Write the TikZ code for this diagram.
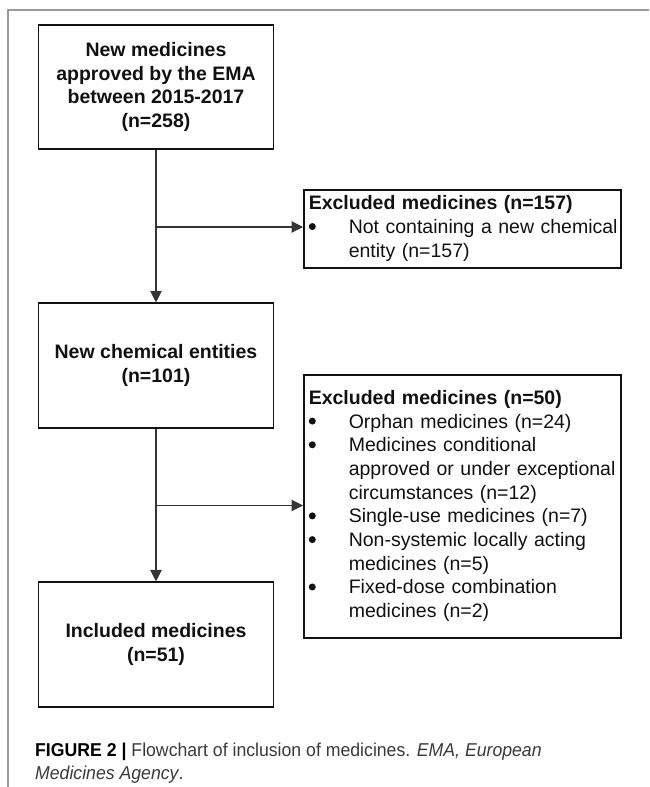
\documentclass[tikz,border=0pt]{standalone}
\usepackage{fontspec}
\setmainfont{Liberation Sans}
\usetikzlibrary{arrows.meta}
\definecolor{framegray}{HTML}{9A9A9A}
\definecolor{ink}{HTML}{111111}
\definecolor{capgray}{HTML}{3A3A3A}
\newcommand{\bigblt}{\tikz[baseline=0pt, x=1pt, y=1pt]\fill[ink] (3.5,7) circle[radius=3.5pt];}
\begin{document}
\begin{tikzpicture}[x=1pt,y=-1pt,
  lbox/.style={draw=ink, line width=1.6pt, minimum width=235pt, minimum height=124.5pt,
    align=center, font=\fontsize{19.5}{23.7}\selectfont\bfseries, text=ink, inner sep=0pt},
  rbox/.style={draw=ink, line width=1.6pt, text width=307pt, inner xsep=5pt, inner ysep=0pt,
    align=left, font=\fontsize{19.5}{23.7}\selectfont, text=ink, anchor=north west},
  arr/.style={draw=ink!85, line width=1.1pt, -{Triangle[length=11.5pt,width=11.5pt]}},
  captext/.style={anchor=base west, inner sep=0pt, font=\fontsize{18.6}{23}\selectfont, text=capgray}
]
\useasboundingbox (0,0) rectangle (649,787);
\draw[framegray, line width=1.7pt] (649,10) -- (8,10) -- (8,787);

\node[lbox] (b1) at (156,87) {New medicines\\approved by the EMA\\between 2015-2017\\(n=258)};
\node[lbox] (b2) at (156,365.5) {New chemical entities\\(n=101)};
\node[lbox] (b3) at (156,644.5) {Included medicines\\(n=51)};

\node[rbox, minimum height=78pt] (ex1) at (303,189) {%
\begin{tabular}{@{}p{40pt}@{}l@{}}
\multicolumn{2}{@{}l@{}}{\textbf{Excluded medicines (n=157)}}\\
\bigblt & Not containing a new chemical\\
 & entity (n=157)
\end{tabular}};

\node[rbox, minimum height=263pt] (ex2) at (303,374) {%
\begin{tabular}{@{}p{40pt}@{}l@{}}
\multicolumn{2}{@{}l@{}}{\textbf{Excluded medicines (n=50)}}\\
\bigblt & Orphan medicines (n=24)\\
\bigblt & Medicines conditional\\
 & approved or under exceptional\\
 & circumstances (n=12)\\
\bigblt & Single-use medicines (n=7)\\
\bigblt & Non-systemic locally acting\\
 & medicines (n=5)\\
\bigblt & Fixed-dose combination\\
 & medicines (n=2)
\end{tabular}};

\coordinate (j1) at (156,227);
\coordinate (j2) at (156,505.5);
\draw[arr] (b1) -- (b2);
\draw[arr] (b2) -- (b3);
\draw[arr] (j1) -- (j1 -| ex1.west);
\draw[arr] (j2) -- (j2 -| ex2.west);

\node[captext] (cap1) at (35,756) {\scalebox{0.95}[1]{\textcolor{black}{\textbf{FIGURE 2 |}} Flowchart of inclusion of medicines. \textit{EMA, European}}};
\node[captext] (cap2) at (35,779.3) {\scalebox{0.95}[1]{\textit{Medicines Agency}.}};
\end{tikzpicture}
\end{document}
